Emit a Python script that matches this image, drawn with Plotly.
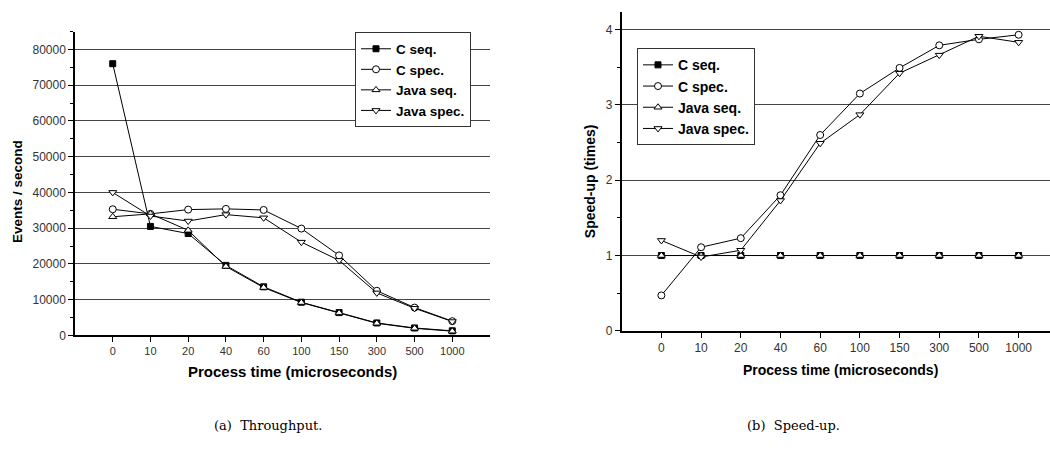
import plotly.graph_objects as go

categories = ["0", "10", "20", "40", "60", "100", "150", "300", "500", "1000"]

tp_c_seq = [76000, 30500, 28500, 19600, 13600, 9300, 6400, 3500, 2100, 1300]
tp_c_spec = [35300, 34000, 35200, 35400, 35100, 29900, 22400, 12500, 7800, 4000]
tp_java_seq = [33200, 34000, 29400, 19300, 13400, 9200, 6300, 3400, 2000, 1200]
tp_java_spec = [40000, 33400, 32000, 33800, 32900, 26100, 21000, 11900, 7600, 3900]

su_c_seq = [1, 1, 1, 1, 1, 1, 1, 1, 1, 1]
su_c_spec = [0.47, 1.11, 1.23, 1.80, 2.60, 3.15, 3.49, 3.79, 3.87, 3.93]
su_java_seq = [1, 1, 1, 1, 1, 1, 1, 1, 1, 1]
su_java_spec = [1.20, 0.98, 1.07, 1.73, 2.49, 2.87, 3.42, 3.66, 3.91, 3.83]

series_names = ["C seq.", "C spec.", "Java seq.", "Java spec."]
symbols = ["square", "circle", "triangle-up", "triangle-down"]
fills = ["black", "white", "white", "white"]
sizes = [6, 7, 7, 7]

FONT = "Liberation Sans, Arial, sans-serif"
fig = go.Figure()

left = [tp_c_seq, tp_c_spec, tp_java_seq, tp_java_spec]
right = [su_c_seq, su_c_spec, su_java_seq, su_java_spec]

for name, sym, fc, sz, ys in zip(series_names, symbols, fills, sizes, left):
    fig.add_trace(go.Scatter(
        x=categories, y=ys, name=name, mode="lines+markers",
        line=dict(color="black", width=1),
        marker=dict(symbol=sym, size=sz, color=fc, line=dict(color="black", width=1)),
        xaxis="x", yaxis="y", legend="legend"))

for name, sym, fc, sz, ys in zip(series_names, symbols, fills, sizes, right):
    fig.add_trace(go.Scatter(
        x=categories, y=ys, name=name, mode="lines+markers",
        line=dict(color="black", width=1),
        marker=dict(symbol=sym, size=sz, color=fc, line=dict(color="black", width=1)),
        xaxis="x2", yaxis="y2", legend="legend2"))

W, H = 1050, 456


def px_x(p):
    return p / W


def px_y(p):
    return 1 - p / H


def axis_common(size):
    return dict(
        showline=True, linecolor="black", linewidth=1.5,
        ticks="outside", tickcolor="black", ticklen=5, tickwidth=1,
        tickfont=dict(family=FONT, size=size, color="#333"),
        zeroline=False,
    )


fig.update_layout(
    width=W, height=H,
    margin=dict(l=0, r=0, t=0, b=0),
    paper_bgcolor="white", plot_bgcolor="white",
    showlegend=True,
    xaxis=dict(domain=[px_x(75), px_x(490)], type="category", range=[-1, 10],
               showgrid=False, anchor="y", **axis_common(11)),
    yaxis=dict(domain=[px_y(340.7), px_y(32)], range=[0, 85000], dtick=10000,
               tickformat="d",
               showgrid=True, gridcolor="#444", gridwidth=1, anchor="x",
               minor=dict(dtick=5000, ticks="outside", ticklen=3, tickcolor="black"),
               **axis_common(12)),
    xaxis2=dict(domain=[px_x(621.7), 1.0], type="category", range=[-1, 9.79],
                showgrid=False, anchor="y2", **axis_common(12)),
    yaxis2=dict(domain=[px_y(336), px_y(12)], range=[0, 4.235], dtick=1,
                showgrid=True, gridcolor="#444", gridwidth=1, anchor="x2",
                minor=dict(dtick=0.5, ticks="outside", ticklen=3, tickcolor="black"),
                **axis_common(12)),
    legend=dict(x=px_x(355), y=px_y(33), xanchor="left", yanchor="top",
                bgcolor="white", bordercolor="#333", borderwidth=1,
                font=dict(family=FONT, size=13.5, color="black", weight="bold"),
                tracegroupgap=0, itemwidth=30),
    legend2=dict(x=px_x(637), y=px_y(49), xanchor="left", yanchor="top",
                 bgcolor="white", bordercolor="#333", borderwidth=1,
                 font=dict(family=FONT, size=14, color="black", weight="bold"),
                 tracegroupgap=0, itemwidth=30),
)


def tf(size):
    return dict(family=FONT, size=size, color="black", weight="bold")


cap_font = dict(family="DejaVu Serif, Liberation Serif, serif", size=13, color="black")
annotations = [
    dict(text="Events / second", x=px_x(17), y=px_y(195), textangle=-90, font=tf(13.5)),
    dict(text="Process time (microseconds)", x=px_x(292), y=px_y(377), font=tf(15)),
    dict(text="Speed-up (times)", x=px_x(590), y=px_y(184), textangle=-90, font=tf(14)),
    dict(text="Process time (microseconds)", x=px_x(840), y=px_y(376), font=tf(14)),
    dict(text="(a)  Throughput.", x=px_x(268), y=px_y(432), font=cap_font),
    dict(text="(b)  Speed-up.", x=px_x(793), y=px_y(432), font=cap_font),
]
for a in annotations:
    a.update(xref="paper", yref="paper", showarrow=False, xanchor="center", yanchor="middle")
fig.update_layout(annotations=annotations)

fig.write_html(
    "out.html",
    config={"displayModeBar": False},
    post_script="document.body.style.margin='0';document.body.style.overflow='hidden';",
)
